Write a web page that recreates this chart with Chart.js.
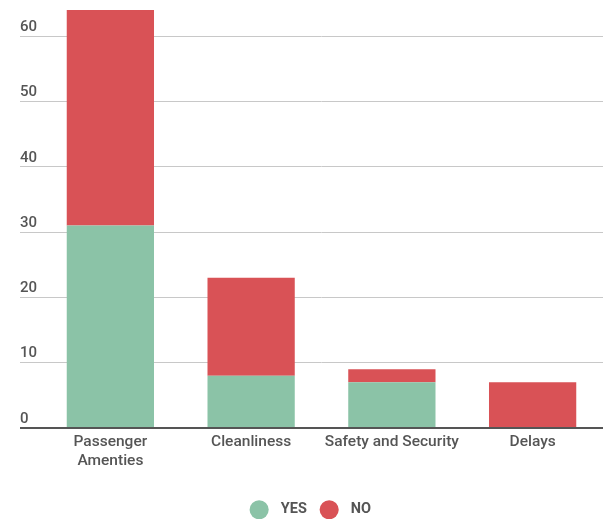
<!DOCTYPE html>
<html>
<head>
<meta charset="utf-8">
<script src="https://cdn.jsdelivr.net/npm/chart.js@4/dist/chart.umd.min.js"></script>
<style>
  html, body { margin: 0; padding: 0; background: #fff; }
  #wrap { width: 614px; height: 519px; }
</style>
</head>
<body>
<div id="wrap"><canvas id="myChart"></canvas></div>
<script>
var categories = [['Passenger', 'Amenties'], 'Cleanliness', 'Safety and Security', 'Delays'];
var yesValues = [31, 8, 7, 0];
var noValues = [33, 15, 2, 7];
var yTicks = [0, 10, 20, 30, 40, 50, 60];

var green = 'rgb(139, 195, 167)';
var red = 'rgb(217, 82, 86)';
var textColor = '#555';

const data = {
  labels: categories,
  datasets: [{
    label: 'YES',
    backgroundColor: green,
    data: yesValues
  }, {
    label: 'NO',
    backgroundColor: red,
    data: noValues
  }]
};

// zero line is dark and thicker, others light grey
function zeroOr(ctx, a, b) {
  return ctx.tick && ctx.tick.value === 0 ? a : b;
}

const config = {
  type: 'bar',
  data: data,
  options: {
    responsive: true,
    maintainAspectRatio: false,
    animation: false,
    layout: { padding: { left: 20, right: 11, top: 10, bottom: -8 } },
    datasets: {
      bar: { categoryPercentage: 1, barPercentage: 0.62 }
    },
    plugins: {
      tooltip: { enabled: false },
      legend: {
        position: 'bottom',
        labels: {
          usePointStyle: true,
          pointStyle: 'circle',
          boxHeight: 13.5,
          color: textColor,
          padding: 15,
          font: { family: 'Roboto', size: 14.5, weight: 'bold' },
          generateLabels: function (chart) {
            var items = Chart.defaults.plugins.legend.labels.generateLabels(chart);
            items.forEach(function (it) { it.text = '  ' + it.text; });
            return items;
          }
        }
      }
    },
    scales: {
      x: {
        stacked: true,
        grid: { display: false, drawTicks: false },
        border: { display: false },
        afterFit: function (scale) { scale.height = 59.5; },
        ticks: {
          color: textColor,
          padding: 4.5,
          maxRotation: 0,
          font: { family: 'Roboto', size: 15.5, weight: '500', lineHeight: 1.23 }
        }
      },
      y: {
        stacked: true,
        min: 0,
        max: 64,
        afterBuildTicks: function (scale) {
          scale.ticks = yTicks.map(function (v) { return { value: v }; });
        },
        afterFit: function (scale) { scale.width = 20; },
        border: { display: false },
        grid: {
          tickLength: 20,
          color: function (ctx) { return zeroOr(ctx, '#555', '#c8c8c8'); },
          tickColor: function (ctx) { return zeroOr(ctx, '#555', '#c8c8c8'); },
          lineWidth: function (ctx) { return zeroOr(ctx, 2, 1); },
          tickWidth: function (ctx) { return zeroOr(ctx, 2, 1); }
        },
        ticks: {
          crossAlign: 'far',
          padding: 0,
          labelOffset: -9,
          color: textColor,
          font: { family: 'Roboto', size: 15, weight: '500' }
        }
      }
    }
  }
};

const myChart = new Chart(
  document.getElementById('myChart'),
  config
);
</script>
</body>
</html>
